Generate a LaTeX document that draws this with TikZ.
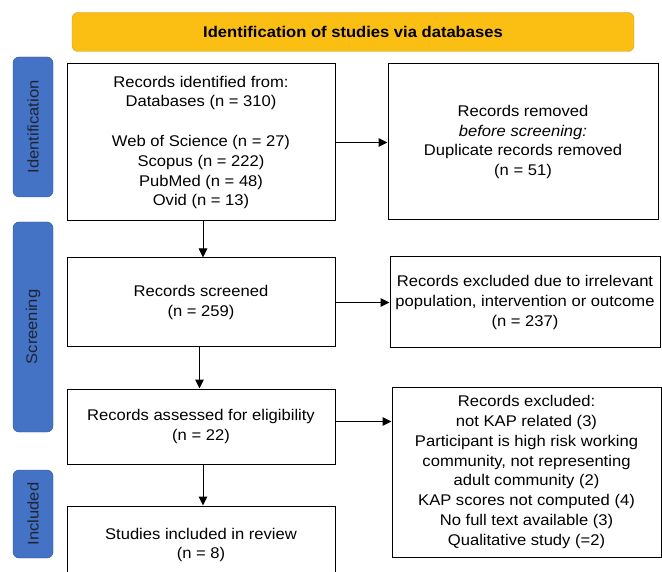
\documentclass[tikz,border=0pt]{standalone}
\usepackage{fontspec}
\setmainfont[FakeStretch=1.07]{Liberation Sans}
\usetikzlibrary{positioning, arrows.meta}
\definecolor{bannerfill}{HTML}{FBBF14}
\definecolor{bannerline}{HTML}{C9A030}
\definecolor{phasefill}{HTML}{4472C4}
\definecolor{phaseline}{HTML}{2F528F}
\definecolor{phasetext}{HTML}{1E2433}
\tikzset{
  >={Triangle[length=9pt,width=8.5pt]},
  every node/.style={font=\fontsize{15.5}{19.8}\selectfont},
  record/.style={draw, line width=1pt, align=center, inner sep=0pt},
  phase/.style={draw=phaseline, fill=phasefill, rounded corners=6pt,
    minimum height=40pt, text=phasetext, rotate=90, inner sep=0pt},
  banner/.style={draw=bannerline, fill=bannerfill, rounded corners=6pt,
    minimum width=562pt, minimum height=39pt, font=\fontsize{15.5}{18}\selectfont\bfseries},
  flow/.style={->, line width=1pt},
}

\begin{document}
\begin{tikzpicture}[x=1pt, y=-1pt]
      \clip (0,0) rectangle (662,572);

      \node[banner] (head) at (353,32) {Identification of studies via databases};

      % phases
      \node[phase, minimum width=140pt] (pid)  at (33,127) {Identification};
      \node[phase, minimum width=210pt] (pscr) at (33,327) {Screening};
      \node[phase, minimum width=88pt]  (pinc) at (33,514) {Included};

      % left column
      \node[record, minimum width=268pt, minimum height=157pt] (ident) at (201,142.5)
        {Records identified from:\\Databases (n = 310)\\[19.8pt]Web of Science (n = 27)\\Scopus (n = 222)\\PubMed (n = 48)\\Ovid (n = 13)};
      \node[record, minimum width=268pt, minimum height=89pt, below=36pt of ident] (screen)
        {Records screened\\(n = 259)};
      \node[record, minimum width=268pt, minimum height=75pt, below=41pt of screen] (elig)
        {Records assessed for eligibility\\(n = 22)};
      \node[record, minimum width=268pt, minimum height=78pt, below=41pt of elig] (incl)
        {Studies included in review\\(n = 8)};

      % right column
      \node[record, minimum width=270pt, minimum height=156pt] (dup) at (523,142)
        {Records removed\\\textit{before screening:}\\Duplicate records removed\\(n = 51)};
      \node[record, minimum width=270pt, minimum height=91pt] (excl) at (525,302.5)
        {Records excluded due to irrelevant\\population, intervention or outcome\\(n = 237)};
      \node[record, minimum width=269pt, minimum height=170pt] (rej) at (526.5,472)
        {Records excluded:\\not KAP related (3)\\Participant is high risk working\\community, not representing\\adult community (2)\\KAP scores not computed (4)\\No full text available (3)\\Qualitative study (=2)};

      \path (elig.east) ++(0,-5) coordinate (eligout);

      \draw[flow] (ident.east)  -- (ident.east -| dup.west);
      \draw[flow] (screen.east) -- (screen.east -| excl.west);
      \draw[flow] (eligout) -- (eligout -| rej.west);
      \draw[flow] ([xshift=2pt]ident.south)  -- ([xshift=2pt]screen.north);
      \draw[flow] ([xshift=-1.5pt]screen.south) -- ([xshift=-1.5pt]elig.north);
      \draw[flow] ([xshift=2pt]elig.south)   -- ([xshift=2pt]incl.north);
\end{tikzpicture}
\end{document}
